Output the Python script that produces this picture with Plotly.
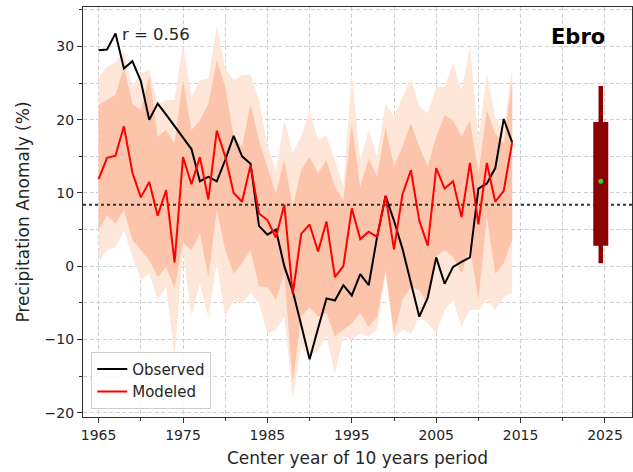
import plotly.graph_objects as go

years = list(range(1965, 2015))

observed = [29.5, 29.6, 31.8, 27.0, 28.0, 25.3, 20.0, 22.2, 20.7, 19.1,
            17.6, 16.0, 11.6, 12.2, 11.6, 14.5, 17.8, 15.0, 14.0, 5.5,
            4.3, 5.0, 0.0, -3.4, -8.0, -12.7, -8.5, -4.4, -4.7, -2.6,
            -4.0, -1.1, -2.6, 4.0, 9.6, 6.2, 2.4, -2.4, -6.9, -4.3,
            1.2, -2.4, -0.1, 0.6, 1.2, 10.6, 11.3, 13.4, 20.1, 16.9]

modeled = [11.9, 14.8, 15.1, 19.1, 12.8, 9.4, 11.5, 6.9, 10.4, 0.5,
           14.9, 11.2, 14.9, 9.1, 18.5, 15.0, 10.0, 8.8, 13.8, 7.2,
           6.3, 3.9, 8.4, -3.8, 4.4, 5.7, 2.0, 6.1, -1.5, 0.0,
           7.9, 3.7, 4.7, 4.0, 9.6, 2.3, 9.8, 13.1, 6.2, 2.8,
           13.4, 10.6, 11.6, 6.7, 14.1, 5.7, 14.1, 8.8, 10.3, 16.9]

outer_hi = [25.9, 27.2, 27.9, 29.3, 24.5, 26.3, 26.8, 22.2, 22.7, 22.7,
            30.4, 23.1, 25.4, 25.6, 32.7, 27.0, 25.4, 26.1, 26.1, 22.7,
            16.5, 13.0, 19.9, 15.5, 17.7, 21.3, 17.2, 17.9, 14.5, 10.8,
            26.3, 14.5, 18.6, 14.9, 22.2, 20.4, 23.1, 25.6, 21.8, 20.9,
            24.5, 24.5, 27.7, 24.0, 30.0, 17.2, 26.3, 20.4, 18.6, 27.2]

inner_hi = [22.0, 22.7, 23.4, 27.2, 22.2, 21.3, 26.0, 17.7, 18.6, 16.8,
            25.4, 18.6, 19.9, 22.2, 28.1, 24.5, 17.7, 16.3, 22.2, 17.2,
            13.6, 9.9, 14.5, 8.1, 13.1, 14.9, 12.7, 14.5, 10.8, 9.0,
            19.5, 10.8, 14.7, 12.2, 19.0, 13.6, 16.3, 19.5, 16.3, 13.6,
            17.7, 20.6, 19.9, 17.7, 19.9, 12.7, 21.3, 18.1, 16.8, 25.4]

inner_lo = [4.9, 7.0, 5.8, 7.7, 3.6, 2.2, 0.8, -1.5, -0.1, -3.0,
            3.2, 2.2, 4.5, -1.5, 7.7, 2.2, -1.0, 0.4, 2.2, -2.8,
            -2.8, -4.6, -1.0, -16.0, -6.9, -5.6, -6.9, -6.4, -9.6, -8.7,
            -7.8, -6.4, -8.3, -6.9, -0.5, -9.2, -4.6, -2.8, -3.3, -5.1,
            1.3, 2.2, 1.3, -1.0, 2.6, -4.6, 6.7, -1.0, 0.4, 3.6]

outer_lo = [0.6, 2.2, 2.6, 4.9, 1.3, -1.9, -1.0, -4.6, -2.8, -12.4,
            2.0, -6.9, -2.4, -6.9, 0.4, -6.9, -4.6, -5.1, -3.7, -5.1,
            -9.2, -8.7, -6.9, -17.9, -11.0, -12.4, -11.5, -9.6, -14.7, -9.6,
            -10.1, -9.2, -9.6, -8.7, -1.0, -10.0, -8.7, -9.2, -6.9, -7.8,
            -9.2, -6.0, -4.6, -8.3, -6.0, -6.0, -4.6, -6.0, -4.2, -3.7]

mean_obs = 8.4

# future projection summary (box at right)
proj_x = 2024.5
proj_whisker = [0.4, 24.6]
proj_box = [2.8, 19.7]
proj_median = 11.6

x_range = [1963.15, 2028.2]
y_range = [-20.6, 35.4]

FONT = "DejaVu Sans"
TXT = "#262626"

fig = go.Figure()

fig.add_trace(go.Scatter(
    x=years + years[::-1], y=outer_hi + outer_lo[::-1],
    fill="toself", fillcolor="#fee6d8", line=dict(width=0),
    mode="lines", showlegend=False, hoverinfo="skip"))
fig.add_trace(go.Scatter(
    x=years + years[::-1], y=inner_hi + inner_lo[::-1],
    fill="toself", fillcolor="#fcc4ab", line=dict(width=0),
    mode="lines", showlegend=False, hoverinfo="skip"))

fig.add_trace(go.Scatter(
    x=x_range, y=[mean_obs, mean_obs], mode="lines",
    line=dict(color="#333333", width=2, dash="dot"),
    showlegend=False, hoverinfo="skip"))

fig.add_trace(go.Scatter(
    x=years, y=observed, mode="lines", name="Observed",
    line=dict(color="black", width=2)))
fig.add_trace(go.Scatter(
    x=years, y=modeled, mode="lines", name="Modeled",
    line=dict(color="red", width=2)))

fig.add_trace(go.Scatter(
    x=[proj_x, proj_x], y=proj_whisker, mode="lines",
    line=dict(color="#8b0000", width=4.5), showlegend=False))
fig.add_trace(go.Scatter(
    x=[proj_x, proj_x], y=proj_box, mode="lines",
    line=dict(color="#8b0000", width=15), showlegend=False))
fig.add_trace(go.Scatter(
    x=[proj_x], y=[proj_median], mode="markers",
    marker=dict(color="#33cc33", size=5), showlegend=False))

grid = dict(showgrid=True, gridcolor="#d0d0d0", griddash="4px,2.5px", gridwidth=1)

fig.update_layout(
    width=633, height=472,
    margin=dict(l=83, r=1, t=7, b=55),
    paper_bgcolor="white", plot_bgcolor="white",
    font=dict(family=FONT, size=14, color=TXT),
    xaxis=dict(
        range=x_range, tick0=1965, dtick=10, ticks="outside", ticklen=5,
        tickwidth=1.2, tickcolor="#333", tickfont=dict(size=14, color=TXT),
        showline=True, linecolor="#333", linewidth=1.3, mirror=True,
        zeroline=False,
        title=dict(text="Center year of 10 years period",
                   font=dict(size=17, color=TXT), standoff=10),
        minor=dict(tick0=1965, dtick=5, ticks="outside", ticklen=3,
                   tickcolor="#333", **grid),
        **grid),
    yaxis=dict(
        range=y_range, tick0=0, dtick=10, ticks="outside", ticklen=5,
        tickwidth=1.2, tickcolor="#333", tickfont=dict(size=14, color=TXT),
        showline=True, linecolor="#333", linewidth=1.3, mirror=True,
        zeroline=False,
        title=dict(text="Precipitation Anomaly (%)",
                   font=dict(size=17, color=TXT), standoff=10),
        minor=dict(tick0=0, dtick=5, ticks="outside", ticklen=3,
                   tickcolor="#333", **grid),
        **grid),
    legend=dict(x=0.015, y=0.02, xanchor="left", yanchor="bottom",
                bgcolor="rgba(255,255,255,0.85)", bordercolor="#cccccc",
                borderwidth=1, font=dict(size=15, color=TXT),
                tracegroupgap=0),
    annotations=[
        dict(text="r = 0.56", xref="paper", yref="paper", x=0.068, y=0.932,
             xanchor="left", yanchor="middle", showarrow=False,
             font=dict(size=16.5, color=TXT)),
        dict(text="<b>Ebro</b>", xref="paper", yref="paper", x=0.901, y=0.927,
             xanchor="center", yanchor="middle", showarrow=False,
             font=dict(size=21, color="black")),
    ],
)

fig.write_html("out.html")
